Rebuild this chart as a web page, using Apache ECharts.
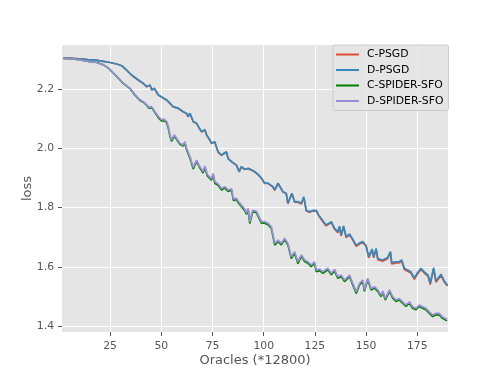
<!DOCTYPE html>
<html>
<head>
<meta charset="utf-8">
<script src="https://cdn.jsdelivr.net/npm/echarts@6/dist/echarts.min.js"></script>
<style>
  html, body { margin: 0; padding: 0; background: #fff; }
  #main { width: 498px; height: 374px; }
</style>
</head>
<body>
<div id="main"></div>
<script>
// x positions (Oracles, *12800) for the PSGD curves
var xPsgd = [
    2, 6, 10, 14, 17, 21.7, 25, 28.2, 30.7, 32.3,
    35.5, 38.8, 41.2, 42.9, 44.5, 45.3, 46.6, 48.5, 51, 52.6,
    54.2, 54.9, 55.8, 58.3, 60.7, 62.3, 63.1, 64, 65.6, 67.2,
    69.6, 71.3, 72.1, 73.7, 74.5, 76.1, 77.7, 79.4, 80.2, 81.8,
    82.6, 84.3, 86.7, 88, 89.1, 90.7, 92.4, 94, 95.6, 97.2,
    98.9, 100.5, 102.1, 104.5, 105.4, 107, 109.4, 111, 111.8, 113.8,
    115.1, 116.7, 118.4, 119.6, 120.8, 122.4, 124, 125.7, 126.8, 128.9,
    130.5, 133, 134.6, 136.2, 137, 137.8, 139, 140.3, 141.9, 143.5,
    145.2, 146.8, 148.4, 150, 151.3, 152.9, 153.7, 154.9, 155.7, 158.1,
    160.5, 161.9, 162.5, 164.6, 166.2, 167.4, 168.7, 170.3, 171.9, 173.6,
    174.9, 176.8, 178.4, 180.3, 181.3, 183, 184.1, 186.6, 188.2, 189.8
];
var cPsgd = [
    2.303, 2.303, 2.301, 2.299, 2.298, 2.293, 2.289, 2.284, 2.278, 2.268,
    2.246, 2.229, 2.218, 2.207, 2.212, 2.196, 2.201, 2.179, 2.168, 2.162,
    2.151, 2.155, 2.139, 2.134, 2.122, 2.117, 2.106, 2.117, 2.089, 2.083,
    2.055, 2.061, 2.044, 2.027, 2.016, 2.021, 1.987, 1.976, 1.970, 1.987,
    1.965, 1.954, 1.942, 1.920, 1.937, 1.928, 1.931, 1.926, 1.920, 1.911,
    1.898, 1.881, 1.881, 1.869, 1.858, 1.881, 1.852, 1.847, 1.813, 1.847,
    1.818, 1.818, 1.812, 1.834, 1.788, 1.784, 1.788, 1.788, 1.773, 1.752,
    1.738, 1.749, 1.727, 1.715, 1.734, 1.704, 1.735, 1.698, 1.708, 1.690,
    1.669, 1.677, 1.682, 1.669, 1.630, 1.657, 1.630, 1.659, 1.624, 1.619,
    1.627, 1.648, 1.610, 1.613, 1.613, 1.619, 1.591, 1.585, 1.579, 1.558,
    1.574, 1.591, 1.579, 1.568, 1.540, 1.593, 1.548, 1.571, 1.548, 1.535
];
var dPsgd = [
    2.303, 2.303, 2.301, 2.299, 2.298, 2.293, 2.289, 2.284, 2.278, 2.268,
    2.247, 2.230, 2.219, 2.208, 2.213, 2.197, 2.202, 2.180, 2.169, 2.163,
    2.152, 2.156, 2.140, 2.135, 2.123, 2.118, 2.107, 2.118, 2.090, 2.084,
    2.056, 2.062, 2.045, 2.028, 2.017, 2.022, 1.988, 1.977, 1.971, 1.988,
    1.966, 1.955, 1.943, 1.921, 1.938, 1.929, 1.932, 1.927, 1.921, 1.912,
    1.899, 1.882, 1.882, 1.870, 1.859, 1.882, 1.853, 1.848, 1.814, 1.848,
    1.820, 1.820, 1.814, 1.836, 1.790, 1.786, 1.790, 1.790, 1.775, 1.755,
    1.741, 1.752, 1.730, 1.718, 1.737, 1.707, 1.738, 1.701, 1.711, 1.693,
    1.672, 1.680, 1.685, 1.672, 1.634, 1.660, 1.634, 1.662, 1.628, 1.623,
    1.631, 1.651, 1.614, 1.617, 1.617, 1.623, 1.595, 1.589, 1.583, 1.562,
    1.578, 1.595, 1.583, 1.572, 1.544, 1.597, 1.552, 1.575, 1.552, 1.538
];

// x positions for the SPIDER-SFO curves
var xSpider = [
    2, 6, 10.4, 15.2, 18.5, 21.7, 24.2, 26.6, 29, 31.5,
    34.7, 37.2, 39.6, 41.2, 42.9, 44, 45.3, 46.9, 48.5, 50.2,
    51.2, 52.6, 53.4, 54.2, 55, 56.3, 57.5, 59.1, 60.7, 61.5,
    62.3, 64, 64.6, 65.6, 67.2, 68.8, 70.4, 71.3, 72.4, 74.5,
    75.3, 76.1, 77.7, 79.4, 80.2, 81, 82.6, 84.3, 85.2, 86.7,
    87.5, 89.1, 90.7, 91.6, 92.4, 93.2, 94.6, 96.4, 97.2, 98.9,
    100.5, 102.1, 103.7, 105.4, 107, 108.6, 110.2, 111.8, 113.5, 115.1,
    116.7, 118.4, 120, 121.6, 123.2, 124.8, 125.7, 127.3, 128.9, 131.3,
    133, 134.6, 136.2, 137.8, 139.5, 141.9, 143.5, 145.2, 146.8, 148.4,
    149.2, 150.8, 152.5, 154.1, 155.7, 157.3, 158.2, 159.4, 161.4, 163,
    164.6, 166.2, 167.8, 169.5, 171.1, 172.7, 174.4, 176, 177.6, 179.2,
    180.9, 182.5, 184.1, 185.7, 187.3, 189.5
];
var cSpider = [
    2.304, 2.302, 2.298, 2.292, 2.289, 2.281, 2.270, 2.253, 2.236, 2.218,
    2.201, 2.178, 2.161, 2.155, 2.144, 2.135, 2.137, 2.120, 2.103, 2.091,
    2.094, 2.086, 2.069, 2.041, 2.023, 2.041, 2.029, 2.013, 2.007, 2.018,
    1.996, 1.966, 1.971, 1.930, 1.956, 1.934, 1.916, 1.936, 1.907, 1.892,
    1.911, 1.882, 1.875, 1.859, 1.854, 1.866, 1.854, 1.858, 1.824, 1.826,
    1.817, 1.803, 1.790, 1.777, 1.792, 1.746, 1.785, 1.783, 1.785, 1.747,
    1.747, 1.742, 1.730, 1.673, 1.685, 1.674, 1.691, 1.674, 1.628, 1.646,
    1.611, 1.635, 1.618, 1.612, 1.600, 1.612, 1.583, 1.587, 1.578, 1.590,
    1.573, 1.586, 1.561, 1.567, 1.550, 1.567, 1.539, 1.510, 1.539, 1.550,
    1.517, 1.556, 1.522, 1.528, 1.517, 1.500, 1.513, 1.488, 1.517, 1.494,
    1.483, 1.488, 1.477, 1.466, 1.477, 1.460, 1.455, 1.466, 1.460, 1.455,
    1.443, 1.432, 1.438, 1.438, 1.426, 1.418
];
var dSpider = [
    2.304, 2.302, 2.298, 2.292, 2.289, 2.281, 2.270, 2.253, 2.236, 2.219,
    2.202, 2.180, 2.163, 2.157, 2.146, 2.138, 2.140, 2.123, 2.107, 2.095,
    2.098, 2.090, 2.073, 2.045, 2.028, 2.045, 2.033, 2.017, 2.011, 2.022,
    2.000, 1.971, 1.975, 1.935, 1.960, 1.938, 1.921, 1.940, 1.912, 1.897,
    1.915, 1.887, 1.880, 1.864, 1.859, 1.870, 1.859, 1.863, 1.829, 1.831,
    1.822, 1.808, 1.795, 1.782, 1.797, 1.752, 1.790, 1.788, 1.790, 1.752,
    1.752, 1.747, 1.735, 1.679, 1.690, 1.679, 1.696, 1.679, 1.634, 1.651,
    1.617, 1.640, 1.623, 1.617, 1.606, 1.617, 1.589, 1.592, 1.583, 1.595,
    1.578, 1.591, 1.566, 1.572, 1.555, 1.572, 1.544, 1.516, 1.544, 1.555,
    1.522, 1.561, 1.527, 1.533, 1.522, 1.505, 1.518, 1.493, 1.522, 1.499,
    1.488, 1.493, 1.482, 1.471, 1.482, 1.465, 1.460, 1.471, 1.465, 1.460,
    1.448, 1.437, 1.443, 1.443, 1.431, 1.422
];

var names = ['C-PSGD', 'D-PSGD', 'C-SPIDER-SFO', 'D-SPIDER-SFO'];
var colors = ['#E24A33', '#348ABD', '#008000', '#988ED5'];
var xTicks = [25, 50, 75, 100, 125, 150, 175];
var yTicks = [1.4, 1.6, 1.8, 2.0, 2.2];

function pairs(xs, ys) {
    var out = [];
    for (var i = 0; i < xs.length; i++) out.push([xs[i], ys[i]]);
    return out;
}

var chart = echarts.init(document.getElementById('main'));
var font = 'DejaVu Sans';

var seriesData = [pairs(xPsgd, cPsgd), pairs(xPsgd, dPsgd), pairs(xSpider, cSpider), pairs(xSpider, dSpider)];
var series = [];
for (var k = 0; k < names.length; k++) {
    series.push({
        name: names[k],
        type: 'line',
        data: seriesData[k],
        showSymbol: false,
        symbol: 'none',
        lineStyle: {width: 1.7, color: colors[k]},
        itemStyle: {color: colors[k]},
        z: 2 + k
    });
}

var option = {
    animation: false,
    backgroundColor: '#fff',
    textStyle: {fontFamily: font},
    grid: {
        left: 62, right: 50, top: 45, bottom: 42,
        show: true, backgroundColor: '#E5E5E5', borderWidth: 0
    },
    legend: {
        data: names,
        orient: 'vertical',
        left: 333, top: 45,
        padding: [3, 5, 3, 3],
        itemGap: 2.5,
        itemWidth: 23, itemHeight: 2,
        icon: 'rect',
        backgroundColor: 'rgba(229,229,229,0.8)',
        borderColor: '#cccccc', borderWidth: 1, borderRadius: 2,
        textStyle: {fontFamily: font, fontSize: 10.8, color: '#000', lineHeight: 13, padding: [0, 0, 0, 3]}
    },
    xAxis: {
        type: 'value',
        min: 1.5, max: 190,
        name: 'Oracles (*12800)',
        nameLocation: 'middle',
        nameMoveOverlap: false,
        nameGap: 22,
        nameTextStyle: {fontFamily: font, fontSize: 13, color: '#555'},
        axisLine: {show: false},
        axisTick: {show: true, customValues: xTicks, length: 4, lineStyle: {color: '#555', width: 1}},
        axisLabel: {customValues: xTicks, margin: 9, color: '#555', fontSize: 10.8, fontFamily: font},
        splitLine: {show: true, lineStyle: {color: '#fff', width: 1}}
    },
    yAxis: {
        type: 'value',
        min: 1.38, max: 2.348,
        name: 'loss',
        nameLocation: 'middle',
        nameMoveOverlap: false,
        nameGap: 28,
        nameTextStyle: {fontFamily: font, fontSize: 13, color: '#555'},
        axisLine: {show: false},
        axisTick: {show: true, customValues: yTicks, length: 4, lineStyle: {color: '#555', width: 1}},
        axisLabel: {
            customValues: yTicks, margin: 8, color: '#555', fontSize: 10.8, fontFamily: font,
            formatter: function (v) { return v.toFixed(1); }
        },
        splitLine: {show: true, lineStyle: {color: '#fff', width: 1}}
    },
    series: series
};
chart.setOption(option);
</script>
</body>
</html>
